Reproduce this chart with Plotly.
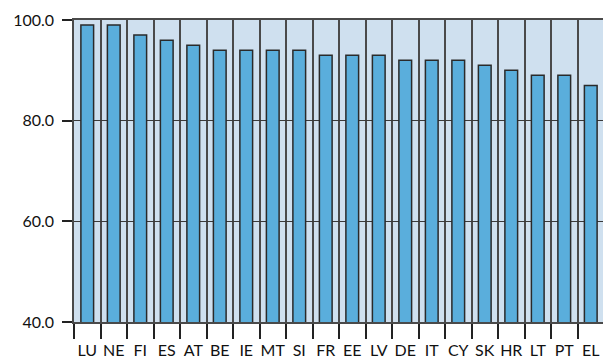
import plotly.graph_objects as go

countries = ["LU", "NE", "FI", "ES", "AT", "BE", "IE", "MT", "SI", "FR",
             "EE", "LV", "DE", "IT", "CY", "SK", "HR", "LT", "PT", "EL"]
values = [99, 99, 97, 96, 95, 94, 94, 94, 94, 93,
          93, 93, 92, 92, 92, 91, 90, 89, 89, 87]

fig = go.Figure()
fig.add_trace(go.Bar(
    x=countries,
    y=values,
    width=0.48,
    marker=dict(color="#5aaedc", line=dict(color="#2a2a2a", width=1.5)),
))

# page body has an 8px margin, so the margins below allow for it
fig.update_layout(
    width=611,
    height=358,
    margin=dict(l=66, r=15, t=12, b=44),
    paper_bgcolor="white",
    plot_bgcolor="#cfe0ef",
    font=dict(family="Lato", size=16, color="#111"),
    showlegend=False,
)

fig.update_xaxes(
    type="category",
    tickson="boundaries",
    tickangle=0,
    automargin=False,
    ticks="outside",
    ticklen=15,
    tickwidth=1.5,
    tickcolor="#222",
    ticklabelstandoff=13,
    showgrid=True,
    gridcolor="#4a4a4a",
    gridwidth=1.5,
    showline=True,
    linecolor="#4a4a4a",
    linewidth=1.5,
    mirror=True,
)
fig.update_yaxes(
    range=[40, 100],
    dtick=20,
    tickformat=".1f",
    automargin=False,
    ticks="outside",
    ticklen=10,
    tickwidth=1.5,
    tickcolor="#222",
    ticklabelstandoff=5,
    showgrid=True,
    gridcolor="#3a3a3a",
    gridwidth=1.3,
    showline=True,
    linecolor="#4a4a4a",
    linewidth=1.5,
    mirror=True,
    zeroline=False,
)

fig.write_html("out.html")
